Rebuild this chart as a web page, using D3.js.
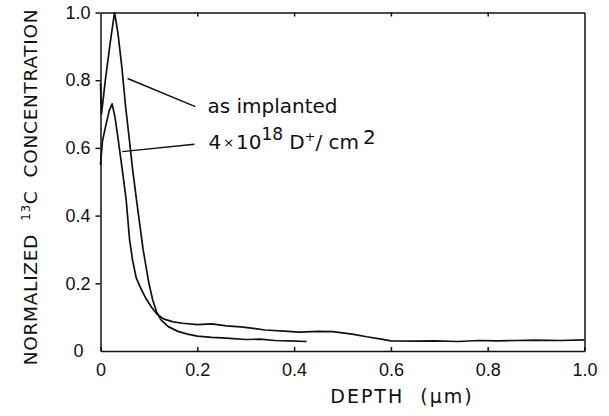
<!DOCTYPE html>
<html>
<head>
<meta charset="utf-8">
<script src="https://cdn.jsdelivr.net/npm/d3@7"></script>
<style>
  body { margin: 0; background: #fff; }
  svg { display: block; font-family: "DejaVu Sans", sans-serif; }
  .axis path, .axis line { stroke: #111; stroke-width: 1.5; }
  .axis text { font-size: 18px; fill: #111; }
</style>
</head>
<body>
<div id="chart"></div>
<script>
// Normalized 13C depth profiles

const xTicks = [0, 0.2, 0.4, 0.6, 0.8, 1.0];
const yTicks = [0, 0.2, 0.4, 0.6, 0.8, 1.0];
const xTickLabels = ['0', '0.2', '0.4', '0.6', '0.8', '1.0'];
const yTickLabels = ['0', '0.2', '0.4', '0.6', '0.8', '1.0'];

// "as implanted" profile
const implantedDepth = [0, 0.002, 0.01, 0.02, 0.029, 0.036, 0.044, 0.052, 0.06, 0.066, 0.075, 0.088,
    0.1, 0.108, 0.116, 0.125, 0.14, 0.16, 0.18, 0.2, 0.23, 0.26, 0.3, 0.33, 0.36, 0.39, 0.426];
const implantedConc = [0.79, 0.70, 0.80, 0.91, 1.0, 0.94, 0.84, 0.72, 0.62, 0.54, 0.44, 0.30,
    0.20, 0.15, 0.115, 0.092, 0.072, 0.058, 0.05, 0.044, 0.04, 0.038, 0.034, 0.035, 0.031, 0.03, 0.028];

// after 4x10^18 D+/cm2
const fluenceDepth = [0, 0.004, 0.01, 0.018, 0.024, 0.03, 0.036, 0.046, 0.053, 0.06, 0.066, 0.074, 0.085,
    0.094, 0.105, 0.116, 0.13, 0.15, 0.17, 0.2, 0.23, 0.26, 0.29, 0.32, 0.34, 0.38, 0.41, 0.45, 0.48, 0.52,
    0.55, 0.58, 0.6, 0.65, 0.69, 0.74, 0.78, 0.82, 0.86, 0.9, 0.95, 1.0];
const fluenceConc = [0.55, 0.62, 0.66, 0.71, 0.73, 0.69, 0.63, 0.525, 0.447, 0.33, 0.27, 0.215, 0.18,
    0.155, 0.13, 0.11, 0.095, 0.086, 0.082, 0.078, 0.08, 0.074, 0.071, 0.066, 0.062, 0.059, 0.056, 0.058, 0.057, 0.05,
    0.042, 0.035, 0.03, 0.029, 0.03, 0.028, 0.031, 0.03, 0.031, 0.032, 0.031, 0.033];

// annotation leader lines, in data units
const labelNames = ['implanted', 'fluence'];
const leaderFrom = [[0.056, 0.805], [0.045, 0.589]];
const leaderTo = [[0.196, 0.722], [0.194, 0.611]];
const labelAt = [[0.221, 0.704], [0.223, 0.597]];

const implanted = implantedDepth.map((d, i) => ({ x: d, y: implantedConc[i] }));
const fluence = fluenceDepth.map((d, i) => ({ x: d, y: fluenceConc[i] }));

const W = 609, H = 416;
const svg = d3.select('#chart').append('svg')
    .attr('width', W)
    .attr('height', H);

const x = d3.scaleLinear().domain([0, 1]).range([100.5, 584.5]);
const y = d3.scaleLinear().domain([0, 1]).range([351, 12.5]);

// left axis, ticks outward
svg.append('g')
    .attr('class', 'axis')
    .attr('transform', `translate(${x(0)},0)`)
    .call(d3.axisLeft(y).tickValues(yTicks).tickSize(5).tickSizeOuter(0).tickPadding(5)
        .tickFormat((d, i) => yTickLabels[i]))
    .call(g => g.selectAll('.tick').filter(d => d === 0).select('line').remove())
    .call(g => g.selectAll('.tick').filter(d => d === 0).select('text').attr('x', -17));

// bottom axis, ticks inward
svg.append('g')
    .attr('class', 'axis')
    .attr('transform', `translate(0,${y(0)})`)
    .call(d3.axisBottom(x).tickValues(xTicks).tickSize(-4).tickSizeOuter(0).tickPadding(12)
        .tickFormat((d, i) => xTickLabels[i]));

// top axis, ticks inward, no labels
svg.append('g')
    .attr('class', 'axis')
    .attr('transform', `translate(0,${y(1)})`)
    .call(d3.axisTop(x).tickValues(xTicks.slice(1, -1)).tickSize(-4).tickSizeOuter(0).tickFormat(''));

// right border
svg.append('g')
    .attr('class', 'axis')
    .attr('transform', `translate(${x(1)},0)`)
    .call(d3.axisRight(y).tickValues([]).tickSizeOuter(0));

const line = d3.line()
    .x(d => x(d.x))
    .y(d => y(d.y));

[implanted, fluence].forEach(series => {
    svg.append('path')
        .datum(series)
        .attr('fill', 'none')
        .attr('stroke', '#111')
        .attr('stroke-width', 1.7)
        .attr('stroke-linejoin', 'round')
        .attr('d', line);
});

// leader lines
labelNames.forEach((name, i) => {
    svg.append('line')
        .attr('x1', x(leaderFrom[i][0]))
        .attr('y1', y(leaderFrom[i][1]))
        .attr('x2', x(leaderTo[i][0]))
        .attr('y2', y(leaderTo[i][1]))
        .attr('stroke', '#111')
        .attr('stroke-width', 1.5);
});

svg.append('text')
    .attr('x', x(labelAt[0][0]))
    .attr('y', y(labelAt[0][1]))
    .attr('font-size', '20px')
    .attr('fill', '#111')
    .text('as implanted');

const t2 = svg.append('text')
    .attr('x', x(labelAt[1][0]))
    .attr('y', y(labelAt[1][1]))
    .attr('font-size', '20px')
    .attr('fill', '#111');
t2.append('tspan').text('4');
t2.append('tspan').attr('font-size', '13px').attr('dx', 2).attr('dy', -2).text('×');
t2.append('tspan').attr('dx', 2).attr('dy', 2).text('10');
t2.append('tspan').attr('font-size', '17px').attr('dy', -9).text('18');
t2.append('tspan').attr('dx', 6).attr('dy', 9).text('D');
t2.append('tspan').attr('font-size', '13px').attr('dy', -8).text('+');
t2.append('tspan').attr('dy', 8).text('/ cm');
t2.append('tspan').attr('dx', 4).attr('dy', -5).text('2');

// axis titles
svg.append('text')
    .attr('x', 402)
    .attr('y', 403)
    .attr('font-size', '19px')
    .attr('letter-spacing', '2px')
    .attr('text-anchor', 'middle')
    .attr('fill', '#111')
    .attr('xml:space', 'preserve')
    .text('DEPTH  (μm)');

const yt = svg.append('text')
    .attr('transform', `translate(37,187) rotate(-90)`)
    .attr('font-size', '18.5px')
    .attr('letter-spacing', '0.7px')
    .attr('text-anchor', 'middle')
    .attr('fill', '#111')
    .attr('xml:space', 'preserve');
yt.append('tspan').text('NORMALIZED  ');
yt.append('tspan').attr('font-size', '12px').attr('dy', -7).text('13');
yt.append('tspan').attr('dy', 7).text('C  CONCENTRATION');
</script>
</body>
</html>
